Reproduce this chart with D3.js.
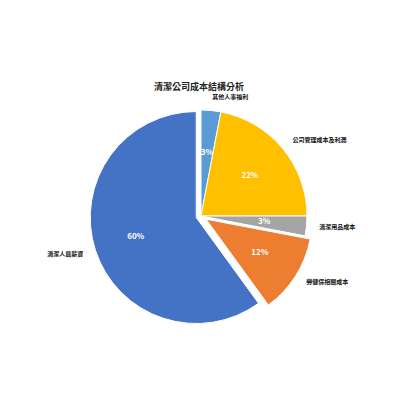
<!DOCTYPE html>
<html>
<head>
<meta charset="utf-8">
<script src="https://cdn.jsdelivr.net/npm/d3@7"></script>
<style>
  body { margin: 0; background: #fff; }
  text { font-family: "Noto Sans CJK TC", "Noto Sans", sans-serif; }
</style>
</head>
<body>
<div id="chart"></div>
<script>
// slices in clockwise order from 12 o'clock
const categories = ["其他人事福利", "公司管理成本及利潤", "清潔用品成本", "勞健保相關成本", "清潔人員薪資"];
const values = [3, 22, 3, 12, 60];
const colors = ["#5B9BD5", "#FFC000", "#A5A5A5", "#ED7D31", "#4472C4"];
const explode = [0, 0, 0, 6, 5]; // pixels pulled out from the centre
const title = "清潔公司成本結構分析";

const width = 410, height = 410;
const cx = 201, cy = 216, radius = 106;

const svg = d3.select("#chart").append("svg")
  .attr("width", width)
  .attr("height", height);

svg.append("text")
  .attr("x", 199)
  .attr("y", 88)
  .attr("text-anchor", "middle")
  .attr("dominant-baseline", "middle")
  .attr("font-size", 9)
  .attr("font-weight", "bold")
  .attr("fill", "#222")
  .text(title);

const data = categories.map((c, i) => ({ name: c, value: values[i], color: colors[i], explode: explode[i] }));

const pie = d3.pie().sort(null).value(d => d.value);
const arc = d3.arc().innerRadius(0).outerRadius(radius);
const inner = d3.arc().innerRadius(radius * 0.6).outerRadius(radius * 0.6);
const outer = d3.arc().innerRadius(radius * 1.12).outerRadius(radius * 1.12);

const g = svg.append("g").attr("transform", `translate(${cx},${cy})`);

//each slice gets its own group so it can be pushed out along its middle angle
const slices = g.selectAll("g.slice")
  .data(pie(data))
  .enter()
  .append("g")
  .attr("class", "slice")
  .attr("transform", function(d) {
    const mid = (d.startAngle + d.endAngle) / 2;
    return `translate(${Math.sin(mid) * d.data.explode},${-Math.cos(mid) * d.data.explode})`;
  });

slices.append("path")
  .attr("d", arc)
  .attr("fill", d => d.data.color)
  .attr("stroke", "#fff")
  .attr("stroke-width", 1);

//percentage inside the slice
slices.append("text")
  .attr("transform", d => `translate(${inner.centroid(d)})`)
  .attr("text-anchor", "middle")
  .attr("dominant-baseline", "middle")
  .attr("font-size", 8)
  .attr("font-weight", "bold")
  .attr("fill", "#fff")
  .text(d => d.data.value + "%");

//category name outside
slices.append("text")
  .attr("transform", d => `translate(${outer.centroid(d)})`)
  .attr("text-anchor", function(d) {
    const mid = (d.startAngle + d.endAngle) / 2;
    return mid < Math.PI ? "start" : "end";
  })
  .attr("dominant-baseline", "middle")
  .attr("font-size", 6)
  .attr("font-weight", "bold")
  .attr("fill", "#111")
  .text(d => d.data.name);
</script>
</body>
</html>
